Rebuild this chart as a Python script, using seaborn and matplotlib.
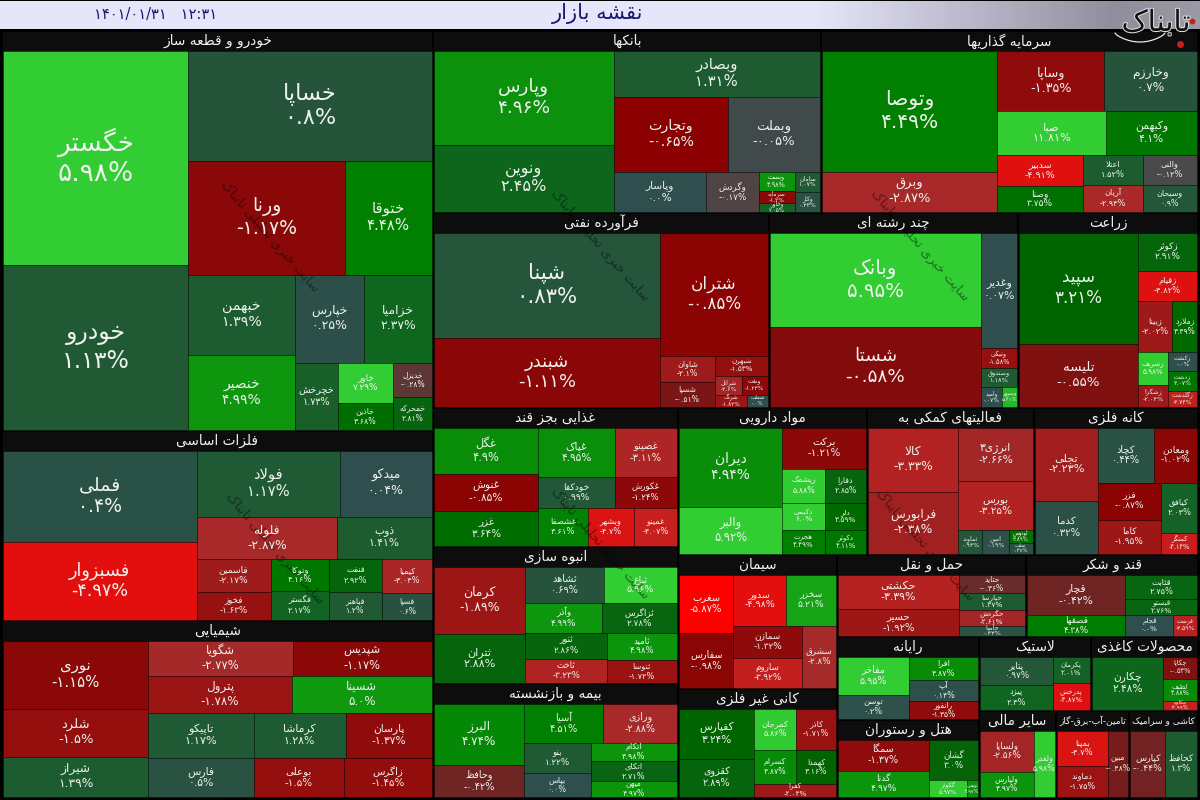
import numpy as np
import matplotlib
matplotlib.use("Agg")
import matplotlib.pyplot as plt
import matplotlib.colors as mcolors
import matplotlib.patheffects as pe
from matplotlib.patches import Rectangle
import seaborn as sns

# ---------- data: tickers, daily change (%), market weight ----------
sector_names = ["خودرو و قطعه ساز", "فلزات اساسی", "شیمیایی", "بانکها", "سرمایه گذاریها",
                "فرآورده نفتی", "چند رشته ای", "زراعت", "غذایی بجز قند", "انبوه سازی",
                "بیمه و بازنشسته", "مواد دارویی", "فعالیتهای کمکی به", "کانه فلزی", "سیمان",
                "کانی غیر فلزی", "حمل و نقل", "قند و شکر", "رایانه", "هتل و رستوران",
                "لاستیک", "محصولات کاغذی", "سایر مالی", "تامین-آب-برق-گاز", "کاشی و سرامیک"]
sector_sizes = [172400, 81890, 76287, 70616, 68614, 65520, 48555, 35100, 34055, 33565,
                27930, 27783, 24549, 24108, 21306, 17331, 15498, 14104, 11786, 11076,
                8288, 7918, 6699, 6351, 6003]
sector_tree = ("h", ("v", 0, 1, 2),
               ("v", ("h", 3, 4), ("h", 5, 6, 7),
                ("h", ("v", 8, 9, 10),
                 ("v", ("h", 11, 12, 13),
                  ("h", ("v", 14, 15),
                   ("v", ("h", 16, 17),
                    ("h", ("v", 18, 19),
                     ("v", ("h", 20, 21), ("h", 22, 23, 24)))))))))

auto_names = ["خگستر", "خودرو", "خساپا", "ورنا", "ختوقا", "خبهمن", "خنصیر", "خپارس", "خزامیا", "خچرخش", "خاور", "خاذین", "خدیزل", "خمحرکه"]
auto_changes = [5.98, 1.13, 0.8, -1.17, 4.48, 1.39, 4.99, 0.25, 2.37, 1.73, 7.29, 3.68, -0.28, 2.81]
auto_sizes = [39590, 30525, 26730, 17784, 9918, 8480, 7950, 6072, 5984, 2881, 2200, 1485, 1326, 1287]
auto_tree = ("h", ("v", 0, 1), ("v", 2, ("h", 3, 4), ("h", ("v", 5, 6), ("v", ("h", 7, 8), ("h", 9, ("v", 10, 11), ("v", 12, 13))))))

metal_names = ["فملی", "فسبزوار", "فولاد", "میدکو", "فلوله", "ذوب", "فاسمین", "فخوز", "وتوکا", "فگستر", "فنفت", "فباهنر", "کیمیا", "فسپا"]
metal_changes = [0.4, -4.97, 1.17, 0.04, -2.87, 1.41, -2.17, -1.63, 4.16, 2.17, 2.92, 1.2, -3.04, 0.6]
metal_sizes = [17756, 15054, 9514, 6138, 5880, 3990, 2442, 2072, 1856, 1682, 1749, 1484, 1700, 1350]
metal_tree = ("h", ("v", 0, 1), ("v", ("h", 2, 3), ("h", 4, 5), ("h", ("v", 6, 7), ("v", 8, 9), ("v", 10, 11), ("v", 12, 13))))

chem_names = ["نوری", "شلرد", "شیراز", "شگویا", "شپدیس", "پترول", "شسینا", "تاپیکو", "فارس", "کرماشا", "پارسان", "بوعلی", "زاگرس"]
chem_changes = [-1.15, -1.5, 1.39, -2.77, -1.17, -1.78, 5.0, 1.17, 0.5, 1.28, -1.37, -1.5, -1.45]
chem_sizes = [9860, 6960, 5800, 5040, 4865, 5291, 5180, 4725, 4095, 4140, 3870, 3510, 3432]
chem_tree = ("h", ("v", 0, 1, 2), ("v", ("h", 3, 4), ("h", 5, 6), ("h", ("v", 7, 8), ("v", ("h", 9, 10), ("h", 11, 12)))))

bank_names = ["وپارس", "ونوین", "وبصادر", "وتجارت", "وبملت", "وپاسار", "وگردش", "وبست", "سرمایه", "وخاور", "سامان", "وکار"]
bank_changes = [4.96, 2.45, 1.31, -0.65, -0.05, 0.0, -0.17, 4.98, -1.2, 2.05, 1.07, 0.33]
bank_sizes = [16826, 11993, 9476, 8550, 6900, 3680, 2080, 703, 407, 333, 500, 500]
bank_tree = ("h", ("v", 0, 1), ("v", 2, ("h", 3, 4), ("h", 5, 6, ("h", ("v", 7, 8, 9), ("v", 10, 11)))))

invest_names = ["وتوصا", "وبرق", "وساپا", "وخارزم", "صبا", "وکبهمن", "سدبیر", "وصنا", "اعتلا", "آریان", "والنی", "وسبحان"]
invest_changes = [4.49, -2.87, -1.35, 0.7, 11.81, 4.1, -4.91, 3.75, 1.52, -2.93, -0.12, 0.9]
invest_sizes = [21054, 6960, 6480, 5580, 4687, 3913, 2666, 2236, 1770, 1593, 1620, 1458]
invest_tree = ("h", ("v", 0, 1), ("v", ("h", 2, 3), ("h", 4, 5), ("h", ("v", 6, 7), ("v", 8, 9), ("v", 10, 11))))

oil_names = ["شپنا", "شبندر", "شتران", "شاوان", "شسپا", "شبهرن", "شرانل", "ونفت", "شرنگ", "شفلت"]
oil_changes = [0.83, -1.11, -0.85, -2.1, -0.51, -1.53, -2.6, -1.23, -1.82, 0.0]
oil_sizes = [23850, 15525, 13392, 1430, 1375, 1060, 494, 494, 372, 252]
oil_tree = ("h", ("v", 0, 1), ("v", 2, ("h", ("v", 3, 4), ("v", 5, ("h", 6, 7), ("h", 8, 9)))))

multi_names = ["وبانک", "شستا", "وغدیر", "ونیکی", "وصندوق", "وامید", "وسپهر"]
multi_changes = [5.95, -0.58, 0.07, -1.58, 1.18, 0.07, 5.61]
multi_sizes = [19950, 16800, 4176, 720, 684, 420, 300]
multi_tree = ("h", ("v", 0, 1), ("v", 2, 3, 4, ("h", 5, 6)))

agri_names = ["سپید", "تلیسه", "زکوثر", "زقیام", "زبینا", "زملارد", "زشریف", "زشگزا", "زکشت", "زدشت", "زگلدشت"]
agri_changes = [3.21, -0.55, 2.91, -4.82, -2.02, 3.49, 5.98, -2.04, 0.0, 4.07, -3.74]
agri_sizes = [13328, 7497, 2301, 1770, 1785, 1275, 990, 660, 551, 580, 464]
agri_tree = ("h", ("v", 0, 1), ("v", 2, 3, ("h", 4, 5), ("h", ("v", 6, 7), ("v", 8, 9, 10))))

food_names = ["غگل", "غنوش", "غزر", "غپاک", "غصینو", "خودکفا", "غکورش", "غشصفا", "وبشهر", "غمینو"]
food_changes = [4.9, -0.85, 3.64, 4.95, -3.11, 0.99, -1.24, 4.61, -4.7, -4.07]
food_sizes = [4888, 3848, 3640, 3800, 3100, 2356, 1922, 1862, 1748, 1634]
food_tree = ("h", ("v", 0, 1, 2), ("v", ("h", 3, 4), ("h", 5, 6), ("h", 7, 8, 9)))

build_names = ["کرمان", "ثتران", "ثشاهد", "ثباغ", "وآذر", "ثزاگرس", "ثنور", "ثاخت", "ثامید", "ثنوسا"]
build_changes = [-1.89, 2.88, 0.69, 5.96, 4.99, 2.78, 2.86, -3.23, 4.98, -1.72]
build_sizes = [6097, 4459, 2886, 2664, 2204, 2175, 2106, 1944, 1890, 1610]
build_tree = ("h", ("v", 0, 1), ("v", ("h", 2, 3), ("h", 4, 5), ("h", ("v", 6, 7), ("v", 8, 9))))

ins_names = ["البرز", "وحافظ", "آسیا", "ورازی", "بنو", "بپاس", "اتکام", "اتکای", "میهن"]
ins_changes = [4.74, -0.42, 4.51, -2.88, 1.22, 0.0, 4.98, 2.71, 4.97]
ins_sizes = [5518, 2937, 3160, 2920, 2077, 1608, 1634, 1720, 1376]
ins_tree = ("h", ("v", 0, 1), ("v", ("h", 2, 3), ("h", ("v", 4, 5), ("v", 6, 7, 8))))

pharma_names = ["دیران", "والبر", "برکت", "ریشمک", "دکیمی", "هجرت", "دفارا", "دلر", "دکوثر"]
pharma_changes = [4.94, 5.92, -1.21, 5.88, 6.0, 4.49, 2.85, 3.59, 4.11]
pharma_sizes = [8137, 4841, 3444, 1462, 1161, 1032, 1394, 1107, 984]
pharma_tree = ("h", ("v", 0, 1), ("v", 2, ("h", ("v", 3, 4, 5), ("v", 6, 7, 8))))

support_names = ["کالا", "فرابورس", "انرژی۳", "بورس", "ثماوند", "امین", "لوتوس", "تملت"]
support_changes = [-3.33, -2.38, -2.66, -3.25, 0.93, 0.19, 3.89, 0.37]
support_sizes = [5696, 5518, 3922, 3626, 576, 624, 312, 264]
support_tree = ("h", ("v", 0, 1), ("v", 2, 3, ("h", 4, 5, ("v", 6, 7))))

mine_names = ["تجلی", "کدما", "کچاد", "ومعادن", "فزر", "کاما", "کیافق", "کمنگز"]
mine_changes = [-2.23, 0.32, 0.44, -1.02, -0.87, -1.95, 2.03, -4.14]
mine_sizes = [4599, 3339, 3135, 2365, 2368, 2176, 1800, 756]
mine_tree = ("h", ("v", 0, 1), ("v", ("h", 2, 3), ("h", ("v", 4, 5), ("v", 6, 7))))

cement_names = ["سغرب", "سفارس", "سدور", "سخزر", "سمازن", "ساروم", "سشرق"]
cement_changes = [-5.87, -0.98, -4.98, 5.21, -1.32, -3.92, -2.8]
cement_sizes = [3186, 2970, 2703, 2550, 2208, 2070, 2108]
cement_tree = ("h", ("v", 0, 1), ("v", ("h", 2, 3), ("h", ("v", 4, 5), 6)))

nonmetal_names = ["کفپارس", "کقزوی", "کمرجان", "کاذر", "کسرام", "کهمدا", "کفرا"]
nonmetal_changes = [3.24, 2.89, 5.86, -1.71, 4.87, 3.16, -2.04]
nonmetal_sizes = [3825, 2925, 1764, 1680, 1470, 1400, 1066]
nonmetal_tree = ("h", ("v", 0, 1), ("v", ("h", 2, 3), ("h", 4, 5), 6))

trans_names = ["حکشتی", "حسیر", "حتاید", "حپارسا", "حگردش", "حآسا"]
trans_changes = [-3.39, -1.92, -0.36, 1.37, -2.61, 0.43]
trans_sizes = [4200, 3240, 1254, 1122, 1056, 660]
trans_tree = ("h", ("v", 0, 1), ("v", 2, 3, 4, 5))

sugar_names = ["قچار", "قثابت", "قبستو", "قصفها", "قجام", "قرست"]
sugar_changes = [-0.42, 2.75, 2.76, 4.38, 0.0, -3.59]
sugar_sizes = [4059, 1800, 1152, 2079, 1008, 504]
sugar_tree = ("v", ("h", 0, ("v", 1, 2)), ("h", 3, 4, 5))

it_names = ["مفاخر", "توسن", "افرا", "آپ", "رانفور"]
it_changes = [5.95, 0.2, 4.87, 0.14, -1.35]
it_sizes = [2730, 1680, 1656, 1449, 1242]
it_tree = ("h", ("v", 0, 1), ("v", 2, 3, 4))

hotel_names = ["سمگا", "گدنا", "گشان", "گکوثر", "تونس"]
hotel_changes = [-1.37, 4.97, 3.0, 5.97, 4.97]
hotel_sizes = [2880, 2430, 2058, 646, 187]
hotel_tree = ("h", ("v", 0, 1), ("v", 2, ("h", 3, 4)))

rubber_names = ["پتایر", "پیزد", "پکرمان", "پدرخش"]
rubber_changes = [0.97, 2.3, 2.01, -4.87]
rubber_sizes = [2088, 1800, 999, 999]
rubber_tree = ("h", ("v", 0, 1), ("v", 2, 3))

paper_names = ["چکارن", "چکاپا", "لطیف", "چکاوه"]
paper_changes = [2.48, -0.54, 4.88, -3.99]
paper_sizes = [3888, 782, 748, 306]
paper_tree = ("h", 0, ("v", 1, 2, 3))

fin_names = ["ولساپا", "ولپارس", "ولغدر"]
fin_changes = [-2.56, 4.97, 5.98]
fin_sizes = [2226, 1378, 1428]
fin_tree = ("h", ("v", 0, 1), 2)

util_names = ["بمپنا", "دماوند", "مبین"]
util_changes = [-4.7, -1.75, -0.48]
util_sizes = [1800, 1600, 1360]
util_tree = ("h", ("v", 0, 1), 2)

ceramic_names = ["کپارس", "کحافظ"]
ceramic_changes = [-0.44, 1.3]
ceramic_sizes = [2448, 2176]
ceramic_tree = ("h", 0, 1)

title_text = "نقشه بازار"
date_text = "۱۴۰۱/۰۱/۳۱"
time_text = "۱۲:۳۱"
watermark_text = "سایت خبری تحلیلی تابناک"
logo_text = "تابناک"

sectors = [
    (auto_names, auto_changes, auto_sizes, auto_tree),
    (metal_names, metal_changes, metal_sizes, metal_tree),
    (chem_names, chem_changes, chem_sizes, chem_tree),
    (bank_names, bank_changes, bank_sizes, bank_tree),
    (invest_names, invest_changes, invest_sizes, invest_tree),
    (oil_names, oil_changes, oil_sizes, oil_tree),
    (multi_names, multi_changes, multi_sizes, multi_tree),
    (agri_names, agri_changes, agri_sizes, agri_tree),
    (food_names, food_changes, food_sizes, food_tree),
    (build_names, build_changes, build_sizes, build_tree),
    (ins_names, ins_changes, ins_sizes, ins_tree),
    (pharma_names, pharma_changes, pharma_sizes, pharma_tree),
    (support_names, support_changes, support_sizes, support_tree),
    (mine_names, mine_changes, mine_sizes, mine_tree),
    (cement_names, cement_changes, cement_sizes, cement_tree),
    (nonmetal_names, nonmetal_changes, nonmetal_sizes, nonmetal_tree),
    (trans_names, trans_changes, trans_sizes, trans_tree),
    (sugar_names, sugar_changes, sugar_sizes, sugar_tree),
    (it_names, it_changes, it_sizes, it_tree),
    (hotel_names, hotel_changes, hotel_sizes, hotel_tree),
    (rubber_names, rubber_changes, rubber_sizes, rubber_tree),
    (paper_names, paper_changes, paper_sizes, paper_tree),
    (fin_names, fin_changes, fin_sizes, fin_tree),
    (util_names, util_changes, util_sizes, util_tree),
    (ceramic_names, ceramic_changes, ceramic_sizes, ceramic_tree),
]

# ---------- Persian shaping (matplotlib draws no joined, right-to-left script) ----------
FORMS = {  # isolated, final, initial, medial
    "ا": "\uFE8D\uFE8E", "آ": "\uFE81\uFE82", "ب": "\uFE8F\uFE90\uFE91\uFE92", "پ": "\uFB56\uFB57\uFB58\uFB59",
    "ت": "\uFE95\uFE96\uFE97\uFE98", "ث": "\uFE99\uFE9A\uFE9B\uFE9C", "ج": "\uFE9D\uFE9E\uFE9F\uFEA0",
    "چ": "\uFB7A\uFB7B\uFB7C\uFB7D", "ح": "\uFEA1\uFEA2\uFEA3\uFEA4", "خ": "\uFEA5\uFEA6\uFEA7\uFEA8",
    "د": "\uFEA9\uFEAA", "ذ": "\uFEAB\uFEAC", "ر": "\uFEAD\uFEAE", "ز": "\uFEAF\uFEB0", "ژ": "\uFB8A\uFB8B",
    "س": "\uFEB1\uFEB2\uFEB3\uFEB4", "ش": "\uFEB5\uFEB6\uFEB7\uFEB8", "ص": "\uFEB9\uFEBA\uFEBB\uFEBC",
    "ض": "\uFEBD\uFEBE\uFEBF\uFEC0", "ط": "\uFEC1\uFEC2\uFEC3\uFEC4", "ظ": "\uFEC5\uFEC6\uFEC7\uFEC8",
    "ع": "\uFEC9\uFECA\uFECB\uFECC", "غ": "\uFECD\uFECE\uFECF\uFED0", "ف": "\uFED1\uFED2\uFED3\uFED4",
    "ق": "\uFED5\uFED6\uFED7\uFED8", "ک": "\uFB8E\uFB8F\uFB90\uFB91", "گ": "\uFB92\uFB93\uFB94\uFB95",
    "ل": "\uFEDD\uFEDE\uFEDF\uFEE0", "م": "\uFEE1\uFEE2\uFEE3\uFEE4", "ن": "\uFEE5\uFEE6\uFEE7\uFEE8",
    "و": "\uFEED\uFEEE", "ه": "\uFEE9\uFEEA\uFEEB\uFEEC", "ی": "\uFBFC\uFBFD\uFBFE\uFBFF",
}


def shape(text):
    out = []
    chars = list(text.replace("لا", "\uFEFB"))
    for i, c in enumerate(chars):
        forms = FORMS.get(c)
        if forms is None:
            out.append(c)
            continue
        prev = chars[i - 1] if i else ""
        nxt = chars[i + 1] if i + 1 < len(chars) else ""
        joins_prev = prev in FORMS and len(FORMS[prev]) == 4
        joins_next = (nxt in FORMS or nxt == "\uFEFB") and len(forms) == 4
        if joins_prev and joins_next:
            out.append(forms[3])
        elif joins_prev:
            out.append(forms[1])
        elif joins_next:
            out.append(forms[2])
        else:
            out.append(forms[0])
    s = list(out)
    for i, c in enumerate(s):
        if c == "\uFEFB" and i and chars[i - 1] in FORMS and len(FORMS[chars[i - 1]]) == 4:
            s[i] = "\uFEFC"
    return "".join(reversed(s))


def percent(value):
    digits = str.maketrans("0123456789", "۰۱۲۳۴۵۶۷۸۹")
    return str(value).translate(digits) + "%"


# ---------- colour scale ----------
stops = [(-6.0, "#ff0000"), (-5.8, "#ff0000"), (-4.9, "#e01010"), (-4.1, "#c81e1e"), (-3.3, "#b22222"),
         (-2.8, "#a52a2a"), (-1.8, "#9c1414"), (-1.17, "#8b0808"), (-0.65, "#8b0000"), (-0.42, "#702525"),
         (-0.28, "#5e3535"), (-0.12, "#4a4a4a"), (-0.05, "#404a4a"), (0.0, "#2f4f4f"), (0.7, "#27533d"),
         (1.2, "#1f5a33"), (2.4, "#0f661f"), (3.2, "#006400"), (4.5, "#007f00"), (4.96, "#0a8f0a"),
         (5.0, "#0f990f"), (5.5, "#20b020"), (5.9, "#32cd32"), (6.0, "#32cd32")]
cmap = mcolors.LinearSegmentedColormap.from_list("market", [((v + 6) / 12, c) for v, c in stops], N=1024)
norm = mcolors.Normalize(-6, 6, clip=True)


# ---------- treemap layout from the weights ----------
def total(node, sizes):
    return sizes[node] if isinstance(node, int) else sum(total(n, sizes) for n in node[1:])


def layout(node, sizes, x, y, w, h, out):
    if isinstance(node, int):
        out[node] = (x, y, w, h)
        return out
    whole = total(node, sizes)
    for child in node[1:]:
        share = total(child, sizes) / whole
        if node[0] == "h":
            layout(child, sizes, x, y, w * share, h, out)
            x += w * share
        else:
            layout(child, sizes, x, y, w, h * share, out)
            y += h * share
    return out


# ---------- drawing ----------
sns.set_theme(style="dark", rc={"figure.facecolor": "black", "axes.facecolor": "black"})
plt.rcParams["font.family"] = ["DejaVu Sans"]

fig, ax = plt.subplots(figsize=(12, 8), dpi=100)
fig.subplots_adjust(0, 0, 1, 1)
ax.set_axis_off()
renderer = fig.canvas.get_renderer()

band = mcolors.LinearSegmentedColormap.from_list(
    "band", [(0, "#e6e6fa"), (0.68, "#e6e6fa"), (0.93, "#8f8f9c"), (1, "#9a9aa6")])
ax.imshow(np.linspace(0, 1, 600)[None, :], cmap=band, extent=(0, 1200, 29, 1), aspect="auto", zorder=1)
ax.set_xlim(0, 1200)
ax.set_ylim(800, 0)
ax.text(598, 14, shape(title_text), color="#191970", fontsize=15, ha="center", va="center", zorder=2)
ax.text(156, 14, date_text + "   " + time_text, color="#191970", fontsize=10.5, ha="center", va="center", zorder=2)

boxes = layout(sector_tree, sector_sizes, 2, 31, 1196, 767, {})
for s, (names, changes, sizes, tree) in enumerate(sectors):
    bx, by, bw, bh = boxes[s]
    ax.add_patch(Rectangle((bx + 1, by + 1), bw - 2, 18.5, fc="#0d0d0d", ec="none", zorder=2))
    head = ax.text(bx + bw / 2, by + 10, shape(sector_names[s]), color="#f2f2f2", fontsize=9.8,
                   ha="center", va="center", zorder=6)
    width = head.get_window_extent(renderer).width
    if width > bw - 6:
        head.set_fontsize(9.8 * (bw - 6) / width)
    cells = layout(tree, sizes, bx + 1, by + 19.5, bw - 2, bh - 20.5, {})
    clip = Rectangle((bx - 40, by + 19.5), bw + 80, bh - 20, transform=ax.transData)
    for i, (x, y, w, h) in cells.items():
        ax.add_patch(Rectangle((x, y), w, h, fc=cmap(norm(changes[i])), ec=(0, 0, 0, 0.3), lw=0.7, zorder=3))
        px = 3.5 + 0.115 * np.sqrt(w * h)
        t = ax.text(x + w / 2, y + h / 2 - 0.5, shape(names[i]) + "\n" + percent(changes[i]),
                    color="#eef2ee", fontsize=px * 0.72, ha="center", va="center",
                    multialignment="center", linespacing=1.2, zorder=5)
        t.set_clip_path(clip)
        t.set_clip_on(True)

# watermark
for cx, cy in [(270, 236), (275, 548), (600, 245), (920, 245), (600, 543), (925, 545)]:
    ax.text(cx, cy, shape(watermark_text), color=(0, 0, 0, 0.45), fontsize=9.5, rotation=-49,
            rotation_mode="anchor", ha="center", va="center", zorder=4)

# logo
ax.text(1156, 23, shape(logo_text), color="#111111", fontsize=21, ha="center", va="center",
        zorder=7, path_effects=[pe.withStroke(linewidth=1.5, foreground="#dddddd")])
arc = np.linspace(0, 1, 40)
ax.plot(1115 + 50 * arc, 33 + 9 * np.sin(np.pi * arc) ** 0.7, color="#e8e8e8", lw=0.9, zorder=7)
ax.scatter([1180], [44], s=16, color="#c8201a", zorder=8)
ax.scatter([1192], [21], s=10, color="#c8201a", zorder=8)

fig.savefig("out.png", dpi=100, facecolor="black")
